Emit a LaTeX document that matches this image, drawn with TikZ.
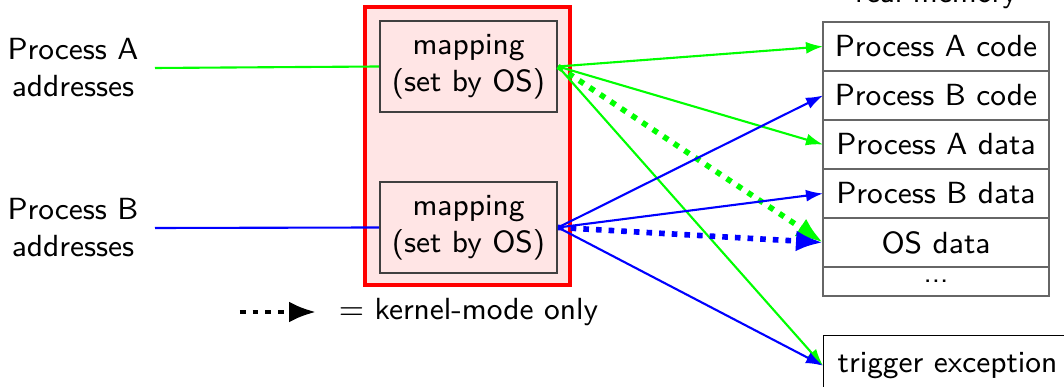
\documentclass[tikz,border=0pt]{standalone}
\usetikzlibrary{arrows.meta,positioning}
\tikzset{>={Latex[length=1.7mm,width=1.2mm]}}
\tikzset{
    mapbox/.style={draw=black!75, minimum width=1.77cm, minimum height=0.91cm, align=center, inner sep=1pt},
    memrow/.style={draw=black!60, semithick, outer sep=0pt, minimum width=2.26cm, minimum height=0.49cm, inner sep=0pt},
    kernel/.style={ultra thick, dotted, -{Latex[length=2.7mm,width=2.1mm]}},
}

\begin{document}
\begin{tikzpicture}[font=\sffamily\fontsize{8.7}{10.5}\selectfont, semithick]
    \useasboundingbox (0,0) rectangle (10.64,3.87);

    % processes
    \node[align=center] (procA) at (0.73,3.19) {Process A\\addresses};
    \node[align=center] (procB) at (0.73,1.59) {Process B\\addresses};

    % OS page tables
    \draw[red, very thick, fill=red!10] (3.65,3.80) rectangle (5.70,1.02);
    \node[mapbox] (mapA) at (4.685,3.205) {mapping\\(set by OS)};
    \node[mapbox] (mapB) at (4.685,1.595) {mapping\\(set by OS)};
    \draw[green] (1.55,3.19) coordinate (startA) -- (mapA.west);
    \draw[blue] (1.55,1.59) coordinate (startB) -- (mapB.west);

    % physical memory
    \node[memrow, anchor=north west] (codeA) at (8.23,3.65) {Process A code};
    \node[memrow, below=0pt of codeA] (codeB) {Process B code};
    \node[memrow, below=0pt of codeB] (dataA) {Process A data};
    \node[memrow, below=0pt of dataA] (dataB) {Process B data};
    \node[memrow, below=0pt of dataB] (osdata) {OS data};
    \node[memrow, below=0pt of osdata, minimum height=0.29cm] (rest) {\footnotesize ...};
    \node[above=0pt of codeA] (realmem) {real memory};
    \node[draw, thin, anchor=north west, minimum height=0.6cm, inner xsep=0.14cm] (trap) at (8.23,0.52) {trigger exception};

    % process A mappings
    \draw[green, ->] (mapA.east) -- (codeA.west);
    \draw[green, ->] (mapA.east) -- (dataA.west);
    \draw[green, ->] (mapA.east) -- (trap.west);
    \draw[green, kernel] (mapA.east) -- (osdata.west);

    % process B mappings
    \draw[blue, ->] (mapB.east) -- (codeB.west);
    \draw[blue, ->] (mapB.east) -- (dataB.west);
    \draw[blue, ->] (mapB.east) -- (trap.west);
    \draw[blue, kernel] (mapB.east) -- (osdata.west);

    % legend
    \coordinate (keyL) at (2.40,0.75);
    \coordinate (keyR) at (3.16,0.75);
    \draw[kernel, very thick] (keyL) -- (keyR);
    \node[right=0.1cm of keyR] (keytext) {$=$ kernel-mode only};
\end{tikzpicture}
\end{document}
